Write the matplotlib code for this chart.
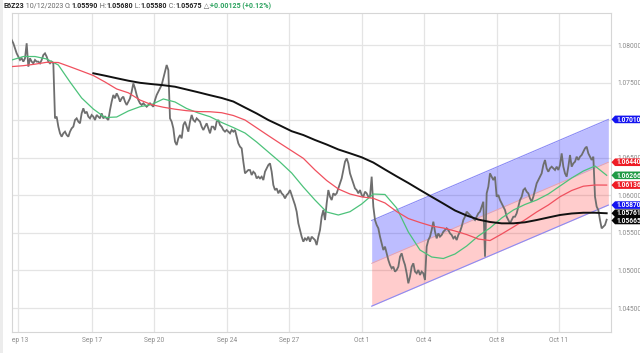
import numpy as np
import matplotlib
matplotlib.use("Agg")
import matplotlib.pyplot as plt
from matplotlib.patches import Polygon, Rectangle
from matplotlib.transforms import IdentityTransform, Bbox, TransformedBbox

plt.rcParams['font.family'] = ['Roboto', 'DejaVu Sans']

# ---------------- data ----------------
close = [
    1.08067, 1.08023, 1.07956, 1.07889, 1.07845, 1.07801, 1.07823, 1.07779, 1.07823, 1.08023,
    1.07712, 1.07823, 1.07779, 1.07756, 1.07801, 1.07779, 1.07779, 1.07756, 1.07801, 1.07867,
    1.07889, 1.07845, 1.07779, 1.07756, 1.07779, 1.07756,
    1.07024, 1.07047, 1.06914, 1.06825, 1.06780, 1.06825, 1.06847, 1.06803, 1.06780, 1.06847,
    1.06891, 1.06914, 1.07002, 1.07024, 1.06980, 1.06958, 1.07091, 1.07158, 1.07091, 1.07113,
    1.07047, 1.07024, 1.07069, 1.07047, 1.07002, 1.07069, 1.07047, 1.07024, 1.07091, 1.07024,
    1.07047, 1.07024, 1.07002, 1.07135, 1.07246, 1.07335, 1.07291, 1.07357, 1.07313, 1.07246,
    1.07291, 1.07313, 1.07246, 1.07202, 1.07246,
    1.07290, 1.07379, 1.07490, 1.07423, 1.07335, 1.07268, 1.07224, 1.07202, 1.07224, 1.07202,
    1.07179, 1.07202, 1.07224, 1.07202, 1.07179, 1.07268, 1.07335, 1.07379, 1.07423, 1.07468,
    1.07556, 1.07645, 1.07734, 1.07667,
    1.07024, 1.06980, 1.06891, 1.06714, 1.06669, 1.06758, 1.06802, 1.06758, 1.06935, 1.06980,
    1.06913, 1.06847, 1.06980, 1.07069, 1.07002, 1.06980, 1.07024, 1.07002, 1.06980, 1.06913,
    1.06869, 1.06913, 1.06958, 1.06891, 1.06825, 1.06913, 1.06913, 1.06869, 1.06980, 1.07002,
    1.06935, 1.06913, 1.06869, 1.06847, 1.06869, 1.06847, 1.06825, 1.06869, 1.06847, 1.06869,
    1.06780, 1.06691, 1.06647, 1.06625, 1.06447, 1.06292, 1.06314, 1.06337,
    1.06336, 1.06270, 1.06314, 1.06292, 1.06225, 1.06248, 1.06225, 1.06248, 1.06203, 1.06314,
    1.06359, 1.06403, 1.06425, 1.06314, 1.06137, 1.06070, 1.06092, 1.06026, 1.06070, 1.06026,
    1.06004, 1.05959, 1.06004, 1.06026, 1.06070, 1.06004, 1.05937, 1.05871, 1.05782, 1.05627,
    1.05538, 1.05449, 1.05383, 1.05427, 1.05405, 1.05449, 1.05383, 1.05449, 1.05427, 1.05405,
    1.05338, 1.05449, 1.05538, 1.05715, 1.05804, 1.05671, 1.05893, 1.06070, 1.05981, 1.05937,
    1.06026, 1.06004, 1.06026, 1.06092, 1.06159, 1.06225, 1.06336, 1.06447, 1.06492, 1.06425,
    1.06292, 1.06225, 1.06159, 1.06092, 1.06070, 1.06026, 1.06070, 1.06004, 1.05981, 1.06048,
    1.06026, 1.05981,
    1.05982, 1.06248, 1.05849, 1.05671, 1.05605, 1.05561, 1.05450, 1.05361, 1.05272, 1.05317,
    1.05228, 1.05139, 1.05073, 1.05028, 1.05050, 1.04984, 1.05006, 1.05050, 1.05183, 1.05228,
    1.05139, 1.05073, 1.04962, 1.04829, 1.04917, 1.05050, 1.05095, 1.04984, 1.04962, 1.05006,
    1.04940, 1.04984, 1.04962, 1.04873, 1.05317, 1.05405, 1.05450, 1.05538, 1.05649, 1.05516,
    1.05427, 1.05494, 1.05450, 1.05472, 1.05516, 1.05538, 1.05561, 1.05538, 1.05494, 1.05472,
    1.05427, 1.05450, 1.05405, 1.05472, 1.05516, 1.05583, 1.05671, 1.05716, 1.05782, 1.05760,
    1.05738, 1.05716, 1.05694, 1.05671, 1.05716, 1.05760, 1.05782, 1.05849, 1.05915, 1.05183,
    1.06026, 1.06115,
    1.06292, 1.06248, 1.06203, 1.06248, 1.05981, 1.06004, 1.05937, 1.05893, 1.05849, 1.05804,
    1.05715, 1.05671, 1.05627, 1.05671, 1.05715, 1.05715, 1.05760, 1.05849, 1.05937, 1.05981,
    1.06070, 1.06092, 1.06048, 1.06026, 1.05959, 1.05915, 1.05981, 1.06070, 1.06159, 1.06203,
    1.06248, 1.06292, 1.06403, 1.06470, 1.06359, 1.06314, 1.06359, 1.06381, 1.06359, 1.06337,
    1.06381, 1.06337, 1.06403, 1.06558, 1.06381, 1.06292, 1.06248, 1.06381, 1.06536, 1.06381,
    1.06425, 1.06447, 1.06514, 1.06470, 1.06514, 1.06536, 1.06580, 1.06625, 1.06647, 1.06558,
    1.06514, 1.06470, 1.06514, 1.05981, 1.05849, 1.05804, 1.05671, 1.05560, 1.05582, 1.05605,
    1.05675,
]

ma_step = 7  # bars between moving-average samples
ma_green = [
    1.07800, 1.07847, 1.07847, 1.07814, 1.07734, 1.07508, 1.07295, 1.07148, 1.07035, 1.07042,
    1.07122, 1.07179, 1.07208, 1.07282, 1.07242, 1.07155, 1.07095, 1.07046, 1.06969, 1.06902,
    1.06829, 1.06709, 1.06576, 1.06443, 1.06297, 1.06110, 1.05937, 1.05778, 1.05738, 1.05782,
    1.05884, 1.06017, 1.06011, 1.05831, 1.05512, 1.05272, 1.05179, 1.05159, 1.05219, 1.05325,
    1.05458, 1.05565, 1.05698, 1.05804, 1.05878, 1.05937, 1.06017, 1.06124, 1.06230, 1.06323,
    1.06390, 1.06266,
]
ma_red = [
    1.07713, 1.07725, 1.07745, 1.07770, 1.07767, 1.07711, 1.07653, 1.07594, 1.07508, 1.07415,
    1.07364, 1.07268, 1.07206, 1.07172, 1.07146, 1.07126, 1.07114, 1.07112, 1.07099, 1.07062,
    1.07002, 1.06898, 1.06794, 1.06692, 1.06592, 1.06492, 1.06337, 1.06197, 1.06084, 1.06017,
    1.05979, 1.05960, 1.05898, 1.05784, 1.05691, 1.05638, 1.05591, 1.05565, 1.05525, 1.05478,
    1.05418, 1.05398, 1.05485, 1.05578, 1.05674, 1.05778, 1.05871, 1.05981, 1.06064, 1.06121,
    1.06137, 1.06136,
]
black_start = 49  # first bar of the long moving average
ma_black = [
    1.07624, 1.07592, 1.07558, 1.07525, 1.07497, 1.07480, 1.07465, 1.07445, 1.07408, 1.07371,
    1.07332, 1.07295, 1.07248, 1.07168, 1.07089, 1.07002, 1.06929, 1.06853, 1.06802, 1.06736,
    1.06676, 1.06610, 1.06559, 1.06506, 1.06436, 1.06343, 1.06252, 1.06164, 1.06071, 1.05980,
    1.05890, 1.05798, 1.05731, 1.05677, 1.05645, 1.05627, 1.05627, 1.05641, 1.05671, 1.05705,
    1.05738, 1.05758, 1.05768, 1.05768, 1.05761,
]

channel_bars = [216, 358]
channel_upper = [1.05665, 1.07010]
channel_mid = [1.05095, 1.06440]
channel_lower = [1.04525, 1.05870]

y_ticks = [1.045, 1.050, 1.055, 1.060, 1.065, 1.070, 1.075, 1.080]
y_tick_labels = ["1.04500", "1.05000", "1.05500", "1.06000", "1.06500", "", "1.07500", "1.08000"]
x_tick_bars = [3.8, 48.2, 85.4, 129.2, 166.4, 210.2, 247.4, 291.2, 328.4]
x_tick_labels = ["Sep 13", "Sep 17", "Sep 20", "Sep 24", "Sep 27", "Oct 1", "Oct 4", "Oct 8", "Oct 11"]

last_values = [1.07010, 1.06440, 1.06266, 1.06136, 1.05870, 1.05761, 1.05665]
last_colors = ["#1414f0", "#ee1c25", "#1f9a45", "#ee1c25", "#1414f0", "#050505", "#050505"]

header_parts = [
    ("E6Z23", "bold", "#222222"), (" 10/12/2023 ", "normal", "#666666"),
    ("O:", "normal", "#666666"), ("1.05590", "bold", "#222222"),
    (" H:", "normal", "#666666"), ("1.05680", "bold", "#222222"),
    (" L:", "normal", "#666666"), ("1.05580", "bold", "#222222"),
    (" C:", "normal", "#666666"), ("1.05675", "bold", "#222222"),
    (" \u25b3:", "normal", "#666666"), ("+0.00125 (+0.12%)", "bold", "#2ca25f"),
]

# ---------------- figure ----------------
W, H = 640, 353
fig = plt.figure(figsize=(W / 100, H / 100), dpi=100)
L, R, T, B = 12, 611, 13, 332
ax = fig.add_axes([L / W, (H - B) / H, (R - L) / W, (B - T) / H])

# faint strip at the left edge of the screenshot
fig.add_artist(Rectangle((0, 0), 2.5, H, transform=IdentityTransform(), facecolor="#ececec",
                         edgecolor="none", zorder=0))

bars = np.arange(len(close))
ma_x = np.arange(len(ma_green)) * ma_step
black_x = black_start + np.arange(len(ma_black)) * ma_step

ax.set_xlim(0.2, 359.6)
ax.set_ylim(1.04181, 1.08426)

# grid
ax.set_yticks(y_ticks)
ax.set_xticks(x_tick_bars)
ax.grid(True, color="#e4e4e4", linewidth=0.9)
ax.set_axisbelow(True)

# channel
ax.fill_between(channel_bars, channel_mid, channel_upper, color=(0, 0, 1, 0.26), linewidth=0, zorder=1)
ax.fill_between(channel_bars, channel_lower, channel_mid, color=(1, 0, 0, 0.2), linewidth=0, zorder=1)
ax.plot(channel_bars, channel_upper, color="#8a8af5", lw=0.8, zorder=1.5)
ax.plot(channel_bars, channel_lower, color="#8a8af5", lw=0.8, zorder=1.5)
ax.plot(channel_bars, channel_mid, color="#f2a0a0", lw=0.6, zorder=1.5)

# price
ax.plot(bars, close, color="#6e6e6e", lw=1.3, zorder=3, solid_joinstyle="miter")

# moving averages
ax.plot(ma_x, ma_green, color="#4cc27a", lw=0.9, zorder=4)
ax.plot(ma_x, ma_red, color="#f0505e", lw=0.9, zorder=4)
ax.plot(black_x, ma_black, color="#111111", lw=1.4, zorder=5)

# spines
for s in ax.spines.values():
    s.set_color("#d6d6d6")
    s.set_linewidth(0.8)

# tick labels
ax.yaxis.tick_right()
ax.tick_params(axis="y", length=0, pad=4.5, labelsize=4.8, labelcolor="#8a8a8a")
ax.set_yticklabels(y_tick_labels)
ax.tick_params(axis="x", length=0, pad=3.5, labelsize=4.8, labelcolor="#8a8a8a")
ax.set_xticklabels(x_tick_labels)
clip = TransformedBbox(Bbox([[0, -1], [1.2, 1]]), ax.transAxes)
for lab in ax.get_xticklabels():
    lab.set_clip_on(True)
    lab.set_clip_box(clip)

# last-value labels (arrow boxes at right)
for v, c in zip(last_values, last_colors):
    yd = ax.transData.transform((0, v))[1]
    h = 3.8
    verts = [(611.5, yd), (615.0, yd + h), (641, yd + h), (641, yd - h), (615.0, yd - h)]
    poly = Polygon(verts, closed=True, facecolor=c, edgecolor="none", transform=IdentityTransform(), zorder=10)
    fig.add_artist(poly)
    fig.text(616.5, yd - 0.2, f"{v:.5f}", transform=IdentityTransform(), color="white",
             fontsize=4.8, fontweight="bold", va="center", ha="left", zorder=11)

# header
renderer = fig.canvas.get_renderer()
x = 3.0
ytop = H - 6.5
for txt, wgt, col in header_parts:
    t = fig.text(x, ytop, txt, transform=IdentityTransform(), fontsize=5.1, fontweight=wgt,
                 color=col, va="center", ha="left")
    bb = t.get_window_extent(renderer=renderer)
    x = bb.x1

fig.savefig("out.png", dpi=100)
